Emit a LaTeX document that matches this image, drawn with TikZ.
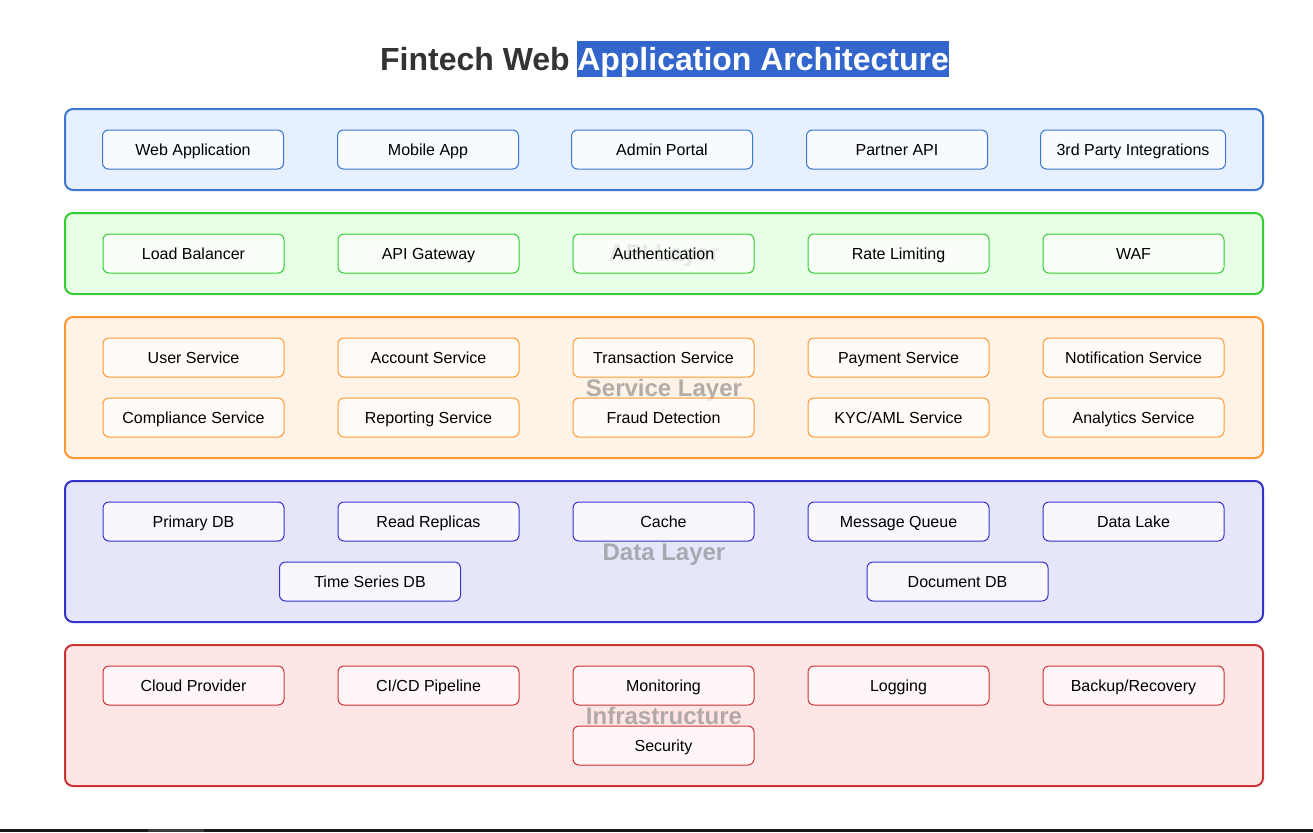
\documentclass[tikz,border=0pt]{standalone}
\usepackage{fontspec}
\setmainfont{Liberation Sans}
\definecolor{titlegray}{HTML}{333333}
\definecolor{selblue}{HTML}{3366CC}
\definecolor{cstroke}{HTML}{3A78D0}
\definecolor{cfill}{HTML}{E6F0FE}
\definecolor{astroke}{HTML}{33CC33}
\definecolor{afill}{HTML}{E6FFE6}
\definecolor{sstroke}{HTML}{FF9933}
\definecolor{sfill}{HTML}{FFF2E6}
\definecolor{dstroke}{HTML}{3333CC}
\definecolor{dfill}{HTML}{E6E6FA}
\definecolor{istroke}{HTML}{CC3333}
\definecolor{ifill}{HTML}{FFE6E6}
\definecolor{barcol}{HTML}{1A1A1A}
\definecolor{barcol2}{HTML}{3C3C3C}
\begin{document}
\begin{tikzpicture}[x=0.75pt,y=-0.75pt,
  layer/.style={line width=1.5pt, rounded corners=6pt},
  box/.style={draw, line width=0.75pt, rounded corners=4.5pt, fill=white, fill opacity=0.7, text opacity=1,
    minimum width=135.75pt, minimum height=29.25pt, inner sep=0pt,
    font=\fontsize{12}{14}\selectfont, text height=8.8pt, text depth=0pt, text=black},
  lbl/.style={font=\bfseries\fontsize{18}{20}\selectfont, text=gray, text opacity=0.6, anchor=base, inner sep=0pt},
  ttl/.style={font=\bfseries\fontsize{24}{28}\selectfont, inner sep=0pt}]
\useasboundingbox (0,0) rectangle (1313,832);
\fill[white] (0,0) rectangle (1313,832);

% title
\node[ttl, fill=selblue, text=white, anchor=base west, text height=21.75pt, text depth=5.25pt] (t2) at (577,70) {Application Architecture};
\node[ttl, text=titlegray, anchor=base east] (t1) at ([xshift=-5.25pt]t2.base west) {Fintech Web};

% layers
\draw[layer, draw=cstroke, fill=cfill] (65,109) rectangle (1263,190);
\draw[layer, draw=astroke, fill=afill] (65,213) rectangle (1263,294);
\draw[layer, draw=sstroke, fill=sfill] (65,317) rectangle (1263,458);
\draw[layer, draw=dstroke, fill=dfill] (65,481) rectangle (1263,622);
\draw[layer, draw=istroke, fill=ifill] (65,645) rectangle (1263,786);

% layer labels
\node[lbl] (lapi) at (664,261) {API Layer};
\node[lbl] (lsrv) at (664,396) {Service Layer};
\node[lbl] (ldat) at (664,560) {Data Layer};
\node[lbl] (linf) at (664,724) {Infrastructure};

% client layer
\begin{scope}[every node/.style={box, draw=cstroke}]
\node (c1) at (193,149.5) {Web Application};
\node (c2) at (428,149.5) {Mobile App};
\node (c3) at (662,149.5) {Admin Portal};
\node (c4) at (897,149.5) {Partner API};
\node[minimum width=138.75pt] (c5) at (1133,149.5) {3rd Party Integrations};
\end{scope}

% api layer
\begin{scope}[every node/.style={box, draw=astroke}]
\node (a1) at (193.5,253.5) {Load Balancer};
\node (a2) at (428.5,253.5) {API Gateway};
\node (a3) at (663.5,253.5) {Authentication};
\node (a4) at (898.5,253.5) {Rate Limiting};
\node (a5) at (1133.5,253.5) {WAF};
\end{scope}

% service layer
\begin{scope}[every node/.style={box, draw=sstroke}]
\node (s1) at (193.5,357.5) {User Service};
\node (s2) at (428.5,357.5) {Account Service};
\node (s3) at (663.5,357.5) {Transaction Service};
\node (s4) at (898.5,357.5) {Payment Service};
\node (s5) at (1133.5,357.5) {Notification Service};
\node (s6) at (193.5,417.5) {Compliance Service};
\node (s7) at (428.5,417.5) {Reporting Service};
\node (s8) at (663.5,417.5) {Fraud Detection};
\node (s9) at (898.5,417.5) {KYC/AML Service};
\node (s10) at (1133.5,417.5) {Analytics Service};
\end{scope}

% data layer
\begin{scope}[every node/.style={box, draw=dstroke}]
\node (d1) at (193.5,521.5) {Primary DB};
\node (d2) at (428.5,521.5) {Read Replicas};
\node (d3) at (663.5,521.5) {Cache};
\node (d4) at (898.5,521.5) {Message Queue};
\node (d5) at (1133.5,521.5) {Data Lake};
\node (d6) at (370,581.5) {Time Series DB};
\node (d7) at (957.5,581.5) {Document DB};
\end{scope}

% infrastructure layer
\begin{scope}[every node/.style={box, draw=istroke}]
\node (i1) at (193.5,685.5) {Cloud Provider};
\node (i2) at (428.5,685.5) {CI/CD Pipeline};
\node (i3) at (663.5,685.5) {Monitoring};
\node (i4) at (898.5,685.5) {Logging};
\node (i5) at (1133.5,685.5) {Backup/Recovery};
\node (i6) at (663.5,745.5) {Security};
\end{scope}

% bottom bar
\fill[barcol] (0,829) rectangle (1313,832);
\fill[barcol2] (148,829) rectangle (204,832);
\end{tikzpicture}
\end{document}
